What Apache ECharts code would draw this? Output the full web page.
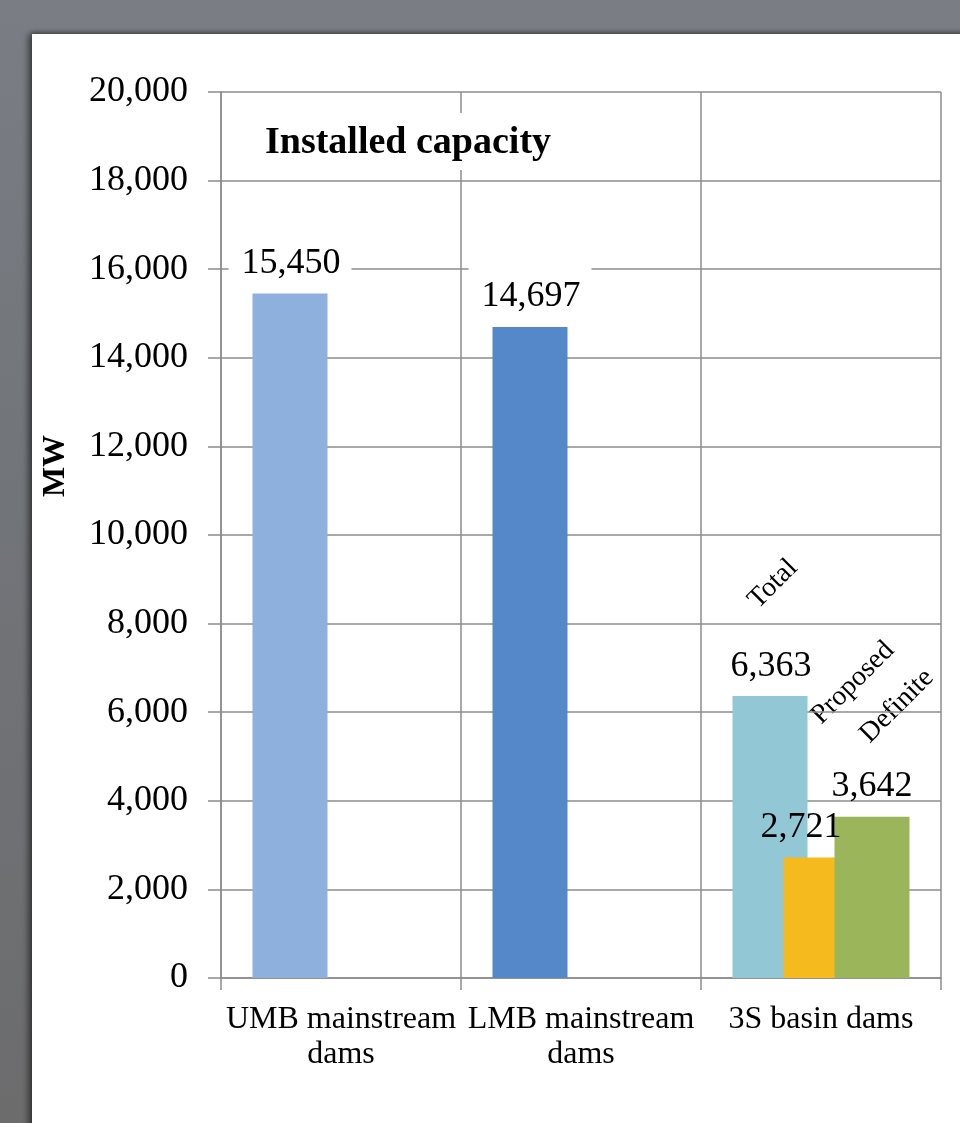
<!DOCTYPE html>
<html>
<head>
<meta charset="utf-8">
<script src="https://cdn.jsdelivr.net/npm/echarts@6/dist/echarts.min.js"></script>
<style>
  html, body { margin: 0; padding: 0; }
  body {
    width: 960px; height: 1123px; overflow: hidden; position: relative;
    background: linear-gradient(180deg, #7a7e84 0%, #72757a 40%, #6c6c6d 100%);
  }
  #panel {
    position: absolute; left: 32px; top: 34px; width: 940px; height: 1100px;
    background: #ffffff;
    box-shadow: -4px 0 6px rgba(0,0,0,0.45), 0 -2px 4px rgba(0,0,0,0.25);
  }
  #chart { position: absolute; left: 0; top: 0; width: 960px; height: 1123px; }
</style>
</head>
<body>
<div id="panel"></div>
<div id="chart"></div>
<script>
// Installed hydropower capacity (MW) by dam group
const categories = ['UMB mainstream\ndams', 'LMB mainstream\ndams', '3S basin dams'];
const seriesNames = ['Total', 'Proposed', 'Definite'];
const totalValues = [15450, 14697, 6363];
const proposedValues = [null, null, 2721];
const definiteValues = [null, null, 3642];
const totalColors = ['#8DB0DD', '#5488C8', '#92C7D6'];
const proposedColor = '#F5BA1E';
const definiteColor = '#9AB55A';
const yMin = 0, yMax = 20000, yStep = 2000;

const serif = '"Liberation Serif", "Times New Roman", serif';
const gridColor = '#8c8c8c';
const fmt = v => Number(v).toLocaleString('en-US');

const baseLabel = {
  show: true,
  position: 'top',
  distance: 12,
  fontFamily: serif,
  fontSize: 36,
  color: '#000',
  formatter: p => fmt(p.value)
};

const chart = echarts.init(document.getElementById('chart'), null, { renderer: 'canvas' });

chart.setOption({
  backgroundColor: 'transparent',
  animation: false,
  title: {
    text: 'Installed capacity',
    left: 261, top: 113, padding: [11, 4, 8, 4],
    backgroundColor: '#ffffff',
    z: 5,
    textStyle: { fontFamily: serif, fontSize: 38, fontWeight: 'bold', color: '#000' }
  },
  grid: { left: 221, right: 19, top: 92, bottom: 145, containLabel: false },
  xAxis: {
    type: 'category',
    data: categories,
    boundaryGap: true,
    axisLine: { show: true, lineStyle: { color: gridColor, width: 1.5 } },
    axisTick: { show: true, length: 12, lineStyle: { color: gridColor, width: 1.5 } },
    splitLine: { show: true, lineStyle: { color: gridColor, width: 1.5 } },
    axisLabel: {
      margin: 24, fontFamily: serif, fontSize: 32, lineHeight: 35,
      color: '#000', align: 'center', interval: 0
    }
  },
  yAxis: {
    type: 'value',
    min: yMin, max: yMax, interval: yStep,
    axisLine: { show: true, lineStyle: { color: gridColor, width: 1.5 } },
    axisTick: { show: true, length: 13, lineStyle: { color: gridColor, width: 1.5 } },
    splitLine: { show: true, lineStyle: { color: gridColor, width: 1.5 } },
    axisLabel: { margin: 33, fontFamily: serif, fontSize: 36, color: '#000', formatter: v => fmt(v) }
  },
  series: [
    {
      name: seriesNames[0],
      type: 'bar',
      barWidth: 75,
      barGap: '-32%',
      data: totalValues.map((v, i) => ({ value: v, itemStyle: { color: totalColors[i] } })),
      label: Object.assign({}, baseLabel, {
        backgroundColor: '#ffffff',
        padding: [16, 11, 2, 13],
        distance: 10
      })
    },
    {
      name: seriesNames[1],
      type: 'bar',
      barWidth: 75,
      barGap: '-32%',
      itemStyle: { color: proposedColor },
      data: proposedValues.map(v => v == null ? null : ({ value: v, label: { offset: [-20, 0] } })),
      label: baseLabel
    },
    {
      name: seriesNames[2],
      type: 'bar',
      barWidth: 75,
      barGap: '-32%',
      itemStyle: { color: definiteColor },
      data: definiteValues,
      label: baseLabel
    }
  ],
  graphic: [
    { type: 'text', x: 56, y: 466, rotation: Math.PI / 2,
      style: { text: 'MW', font: 'bold 32px ' + serif, fill: '#000', align: 'center', verticalAlign: 'middle' } },
    { type: 'text', x: 773, y: 584, rotation: Math.PI / 4,
      style: { text: seriesNames[0], font: '28px ' + serif, fill: '#000', align: 'center', verticalAlign: 'middle' } },
    { type: 'text', x: 853, y: 683, rotation: Math.PI / 4,
      style: { text: seriesNames[1], font: '28px ' + serif, fill: '#000', align: 'center', verticalAlign: 'middle' } },
    { type: 'text', x: 897, y: 706, rotation: Math.PI / 4,
      style: { text: seriesNames[2], font: '28px ' + serif, fill: '#000', align: 'center', verticalAlign: 'middle' } }
  ]
});
</script>
</body>
</html>
